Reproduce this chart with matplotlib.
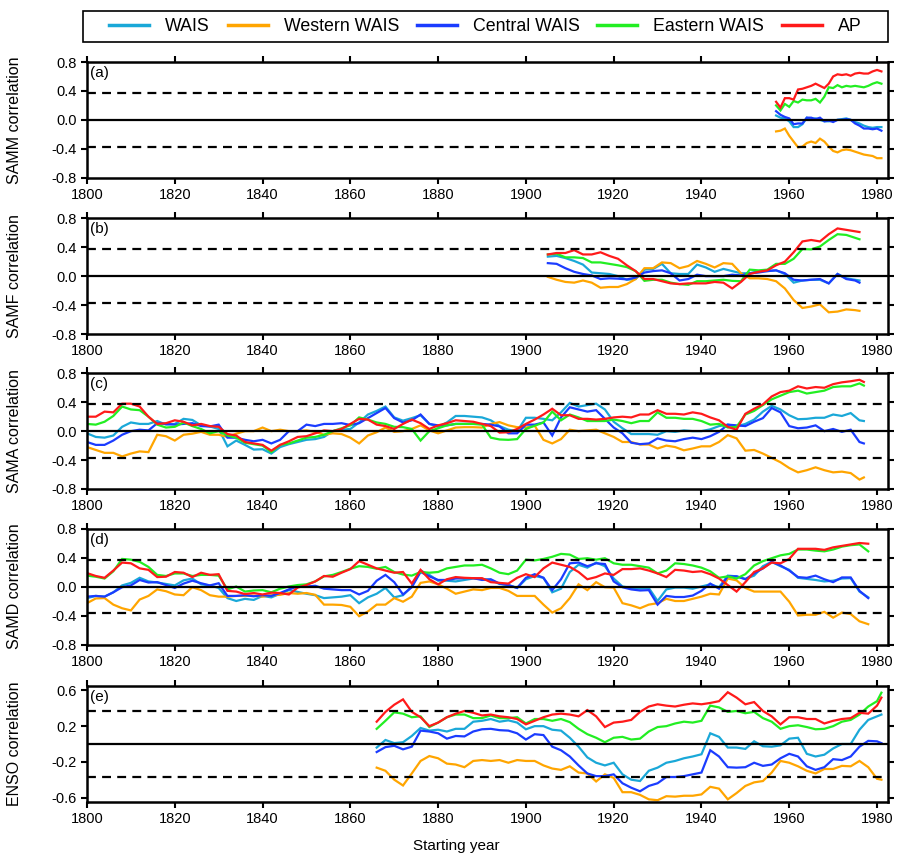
import numpy as np
import matplotlib
matplotlib.use("Agg")
import matplotlib.pyplot as plt
from matplotlib.patches import Rectangle

plt.rcParams['font.family'] = ['Liberation Sans', 'DejaVu Sans']
plt.rcParams['axes.unicode_minus'] = False

regions = ["WAIS", "Western WAIS", "Central WAIS", "Eastern WAIS", "AP"]
colors = ["#1AA8D8", "#FFA500", "#1B3CFF", "#22EE22", "#FF1A1A"]
threshold = 0.372

# ---------------- (a) SAMM ----------------
years_samm = list(range(1957, 1982))
samm_wais = [0.06, 0.03, 0.02, -0.02, -0.10, -0.10, -0.06, 0.03, 0.01, 0.02, 0.0, -0.02, -0.02,
             -0.01, 0.0, 0.01, 0.02, 0.0, -0.03, -0.05, -0.08, -0.10, -0.11, -0.10, -0.10]
samm_west = [-0.16, -0.15, -0.12, -0.22, -0.30, -0.38, -0.37, -0.32, -0.30, -0.32, -0.26, -0.30, -0.37,
             -0.43, -0.45, -0.42, -0.41, -0.42, -0.44, -0.46, -0.48, -0.49, -0.50, -0.53, -0.53]
samm_central = [0.12, 0.07, 0.04, 0.02, -0.06, -0.05, -0.05, 0.03, 0.03, 0.01, 0.03, -0.02, -0.01,
                -0.03, 0.0, 0.0, 0.01, 0.0, -0.05, -0.08, -0.12, -0.12, -0.13, -0.12, -0.15]
samm_east = [0.20, 0.13, 0.22, 0.18, 0.26, 0.24, 0.28, 0.27, 0.27, 0.29, 0.24, 0.32, 0.45,
             0.44, 0.48, 0.45, 0.47, 0.46, 0.47, 0.46, 0.45, 0.47, 0.50, 0.52, 0.50]
samm_ap = [0.25, 0.17, 0.30, 0.30, 0.28, 0.42, 0.43, 0.45, 0.47, 0.50, 0.47, 0.44, 0.50,
           0.60, 0.63, 0.62, 0.63, 0.61, 0.64, 0.65, 0.64, 0.64, 0.67, 0.69, 0.67]

# ---------------- (b) SAMF ----------------
years_samf = list(range(1905, 1976, 2)) + [1976]
samf_wais = [0.27, 0.28, 0.25, 0.21, 0.16, 0.05, 0.04, 0.03, 0.0, -0.05,
             -0.04, 0.09, 0.10, 0.17, 0.04, 0.03, 0.03, 0.16, 0.12, 0.06,
             0.10, 0.07, 0.04, 0.04, 0.07, 0.07, 0.08, 0.03, -0.09, -0.06,
             -0.05, -0.05, -0.10, 0.03, -0.03, -0.05, -0.06]
samf_west = [-0.01, -0.05, -0.08, -0.09, -0.06, -0.09, -0.16, -0.15, -0.15, -0.11,
             -0.04, 0.11, 0.11, 0.19, 0.18, 0.11, 0.14, 0.21, 0.17, 0.12,
             0.18, 0.17, 0.04, -0.03, -0.03, -0.04, -0.07, -0.17, -0.33, -0.44,
             -0.42, -0.39, -0.50, -0.49, -0.46, -0.47, -0.48]
samf_central = [0.18, 0.17, 0.11, 0.06, 0.03, 0.01, -0.04, -0.03, -0.035, -0.045,
                -0.02, 0.05, 0.07, 0.08, 0.04, -0.06, -0.04, 0.02, 0.0, 0.0,
                0.0, 0.02, 0.01, 0.04, 0.05, 0.07, 0.08, 0.04, -0.05, -0.06,
                -0.05, -0.04, -0.10, 0.03, -0.04, -0.06, -0.09]
samf_east = [0.30, 0.31, 0.26, 0.26, 0.25, 0.19, 0.19, 0.17, 0.15, 0.125,
             0.07, -0.065, -0.05, -0.05, -0.09, -0.11, -0.12, -0.07, -0.07, -0.06,
             -0.05, -0.065, -0.07, 0.09, 0.08, 0.09, 0.17, 0.17, 0.24, 0.375,
             0.37, 0.41, 0.50, 0.58, 0.57, 0.53, 0.51]
samf_ap = [0.30, 0.32, 0.32, 0.36, 0.30, 0.30, 0.33, 0.28, 0.24, 0.15,
           0.07, -0.04, -0.04, -0.07, -0.10, -0.11, -0.10, -0.10, -0.10, -0.08,
           -0.09, -0.17, -0.08, 0.03, 0.06, 0.08, 0.15, 0.20, 0.33, 0.48,
           0.50, 0.48, 0.58, 0.66, 0.64, 0.62, 0.61]

# ---------------- (c) SAMA ----------------
years_sama = list(range(1800, 1977, 2)) + [1977]
sama_wais = [-0.03, -0.08, -0.09, -0.06, 0.06, 0.12, 0.10, 0.10, 0.14, 0.09,
             0.10, 0.17, 0.155, 0.08, 0.065, 0.03, -0.21, -0.13, -0.19, -0.255,
             -0.25, -0.31, -0.22, -0.18, -0.15, -0.12, -0.11, -0.08, 0.0, 0.02,
             0.03, 0.12, 0.23, 0.28, 0.34, 0.19, 0.145, 0.18, 0.22, 0.10,
             0.06, 0.12, 0.21, 0.21, 0.20, 0.19,
             0.15, 0.07, 0.02, 0.0, 0.185, 0.185, 0.17, 0.15, 0.26, 0.39,
             0.34, 0.36, 0.38, 0.30, 0.13, 0.04, -0.04, -0.04, -0.04, -0.05,
             0.0, -0.01, 0.01, 0.0, 0.0, 0.025, 0.07, 0.09, 0.065, 0.10,
             0.16, 0.27, 0.35, 0.30, 0.22, 0.165, 0.17, 0.185, 0.185, 0.23,
             0.21, 0.25, 0.15, 0.14]
sama_west = [-0.22, -0.26, -0.30, -0.30, -0.35, -0.31, -0.28, -0.29, -0.05, -0.07,
             -0.13, -0.05, -0.035, -0.01, -0.05, -0.05, -0.08, -0.035, 0.0, 0.0,
             0.05, 0.0, 0.02, 0.0, 0.0, 0.01, -0.01, -0.05, -0.03, -0.04,
             -0.09, -0.17, -0.06, -0.015, 0.05, -0.01, 0.0, 0.03, 0.08, 0.01,
             -0.03, 0.01, 0.05, 0.055, 0.055, 0.05,
             0.10, 0.125, 0.08, 0.055, 0.05, 0.075, -0.12, -0.17, -0.11, 0.02,
             0.0, 0.01, 0.02, -0.03, -0.08, -0.15, -0.15, -0.185, -0.185, -0.24,
             -0.20, -0.22, -0.265, -0.24, -0.21, -0.21, -0.15, -0.055, -0.10, -0.27,
             -0.26, -0.31, -0.37, -0.43, -0.51, -0.57, -0.54, -0.50, -0.54, -0.57,
             -0.56, -0.58, -0.67, -0.64]
sama_central = [-0.15, -0.19, -0.19, -0.13, -0.05, 0.0, 0.02, 0.01, 0.11, 0.10,
                0.09, 0.10, 0.11, 0.07, 0.065, 0.09, -0.09, -0.09, -0.12, -0.14,
                -0.12, -0.17, -0.12, 0.0, 0.0, 0.09, 0.07, 0.10, 0.10, 0.11,
                0.085, 0.11, 0.18, 0.25, 0.32, 0.18, 0.12, 0.15, 0.23, 0.10,
                0.08, 0.08, 0.10, 0.10, 0.10, 0.10,
                0.09, 0.065, -0.03, -0.03, 0.09, 0.09, 0.12, -0.06, 0.19, 0.33,
                0.30, 0.27, 0.29, 0.17, 0.05, -0.03, -0.16, -0.18, -0.17, -0.10,
                -0.13, -0.14, -0.11, -0.09, -0.11, -0.07, -0.01, 0.09, 0.08, 0.07,
                0.13, 0.18, 0.32, 0.26, 0.07, 0.04, 0.05, 0.08, 0.0, 0.03,
                -0.01, 0.02, -0.15, -0.17]
sama_east = [0.10, 0.09, 0.13, 0.21, 0.34, 0.30, 0.29, 0.20, 0.09, 0.05,
             0.06, 0.12, 0.07, 0.03, -0.03, 0.0, -0.06, -0.09, -0.16, -0.18,
             -0.20, -0.29, -0.19, -0.17, -0.13, -0.09, -0.08, -0.05, 0.0, 0.04,
             0.08, 0.19, 0.16, 0.12, 0.10, 0.06, 0.055, 0.03, -0.13, 0.0,
             0.04, 0.08, 0.10, 0.10, 0.10, 0.09,
             -0.09, -0.115, -0.12, -0.11, 0.03, 0.075, 0.12, 0.27, 0.15, 0.23,
             0.19, 0.14, 0.14, 0.14, 0.16, 0.14, 0.11, 0.14, 0.14, 0.26,
             0.185, 0.185, 0.17, 0.17, 0.14, 0.09, 0.10, 0.05, 0.06, 0.23,
             0.28, 0.36, 0.44, 0.49, 0.54, 0.56, 0.52, 0.54, 0.56, 0.61,
             0.62, 0.62, 0.66, 0.63]
sama_ap = [0.20, 0.20, 0.27, 0.26, 0.38, 0.38, 0.34, 0.20, 0.10, 0.11,
           0.15, 0.13, 0.08, 0.10, 0.07, 0.06, -0.04, -0.06, -0.15, -0.17,
           -0.19, -0.27, -0.19, -0.14, -0.08, -0.07, -0.03, 0.01, 0.0, 0.03,
           0.10, 0.17, 0.16, 0.09, 0.07, 0.03, 0.10, 0.16, 0.11, 0.03,
           0.08, 0.11, 0.15, 0.14, 0.13, 0.10,
           0.07, -0.02, -0.015, 0.03, 0.10, 0.16, 0.23, 0.31, 0.22, 0.22,
           0.17, 0.17, 0.16, 0.17, 0.19, 0.20, 0.19, 0.23, 0.23, 0.29,
           0.24, 0.24, 0.23, 0.26, 0.24, 0.19, 0.15, 0.06, 0.02, 0.24,
           0.31, 0.37, 0.48, 0.54, 0.56, 0.62, 0.59, 0.61, 0.60, 0.65,
           0.675, 0.69, 0.71, 0.68]

# ---------------- (d) SAMD ----------------
years_samd = list(range(1800, 1979, 2))
samd_wais = [-0.16, -0.13, -0.14, -0.08, 0.015, 0.05, 0.12, 0.07, 0.055, 0.035,
             0.015, 0.085, 0.11, 0.03, 0.015, -0.02, -0.16, -0.20, -0.17, -0.185,
             -0.13, -0.15, -0.10, -0.05, -0.075, -0.10, -0.12, -0.16, -0.15, -0.14,
             -0.12, -0.23, -0.15, -0.10, -0.02, -0.15, -0.12, 0.0, 0.22, 0.16,
             0.08, 0.08, 0.07, 0.09, 0.11, 0.105,
             0.09, 0.035, 0.02, -0.02, 0.10, 0.145, 0.12, -0.08, -0.03, 0.20,
             0.30, 0.26, 0.33, 0.28, 0.11, 0.0, -0.02, -0.03, -0.02, -0.20,
             -0.04, -0.015, -0.015, -0.03, 0.0, 0.03, -0.01, 0.15, 0.14, 0.105,
             0.15, 0.28, 0.34, 0.28, 0.23, 0.12, 0.105, 0.09, 0.07, 0.08,
             0.11, 0.115, -0.07, -0.15]
samd_west = [-0.23, -0.165, -0.16, -0.25, -0.30, -0.33, -0.18, -0.13, -0.04, -0.065,
             -0.11, -0.12, -0.01, -0.05, -0.12, -0.14, -0.14, -0.13, -0.13, -0.125,
             -0.14, -0.12, -0.115, -0.09, -0.10, -0.09, -0.115, -0.25, -0.25, -0.255,
             -0.28, -0.41, -0.345, -0.25, -0.25, -0.16, -0.21, -0.14, 0.05, 0.07,
             0.03, -0.03, -0.10, -0.07, -0.04, -0.05,
             -0.02, -0.02, -0.06, -0.13, -0.13, -0.13, -0.25, -0.36, -0.30, -0.16,
             0.03, -0.05, 0.06, -0.01, -0.015, -0.23, -0.26, -0.30, -0.25, -0.23,
             -0.17, -0.20, -0.20, -0.17, -0.14, -0.10, -0.11, 0.11, 0.085, -0.02,
             -0.07, -0.07, -0.07, -0.07, -0.21, -0.40, -0.39, -0.39, -0.35, -0.43,
             -0.36, -0.38, -0.48, -0.52]
samd_central = [-0.14, -0.13, -0.14, -0.08, -0.01, 0.015, 0.09, 0.055, 0.06, 0.02,
                -0.02, 0.04, 0.08, 0.045, 0.015, 0.045, -0.13, -0.13, -0.12, -0.135,
                -0.12, -0.13, -0.09, -0.04, 0.0, 0.0, 0.01, -0.03, -0.04, -0.05,
                -0.05, -0.11, -0.06, 0.08, 0.16, 0.06, -0.11, -0.01, 0.20, 0.14,
                0.09, 0.09, 0.11, 0.115, 0.115, 0.09,
                0.10, 0.04, 0.02, -0.02, 0.12, 0.17, 0.12, -0.05, 0.10, 0.32,
                0.33, 0.28, 0.32, 0.31, 0.07, -0.01, -0.04, -0.055, -0.05, -0.25,
                -0.13, -0.145, -0.145, -0.125, -0.06, 0.04, -0.03, 0.14, 0.14, 0.10,
                0.18, 0.25, 0.34, 0.29, 0.22, 0.13, 0.12, 0.15, 0.10, 0.06,
                0.125, 0.125, -0.06, -0.16]
samd_east = [0.15, 0.135, 0.11, 0.21, 0.38, 0.37, 0.34, 0.27, 0.16, 0.145,
             0.18, 0.18, 0.145, 0.16, 0.16, 0.15, -0.04, 0.0, -0.07, -0.055,
             -0.05, -0.08, -0.03, 0.0, 0.02, 0.03, 0.07, 0.14, 0.16, 0.20,
             0.245, 0.28, 0.27, 0.245, 0.27, 0.20, 0.165, 0.15, 0.20, 0.19,
             0.20, 0.25, 0.27, 0.29, 0.29, 0.30,
             0.25, 0.19, 0.17, 0.22, 0.37, 0.36, 0.38, 0.41, 0.45, 0.44,
             0.38, 0.39, 0.37, 0.39, 0.32, 0.30, 0.30, 0.28, 0.26, 0.18,
             0.22, 0.32, 0.31, 0.29, 0.26, 0.21, 0.12, 0.14, 0.11, 0.17,
             0.29, 0.35, 0.39, 0.43, 0.45, 0.51, 0.51, 0.495, 0.485, 0.51,
             0.55, 0.57, 0.58, 0.485]
samd_ap = [0.185, 0.145, 0.12, 0.22, 0.33, 0.32, 0.25, 0.23, 0.13, 0.135,
           0.20, 0.19, 0.13, 0.19, 0.16, 0.17, -0.06, -0.07, -0.105, -0.09,
           -0.11, -0.085, -0.09, -0.11, -0.015, 0.02, 0.07, 0.145, 0.135, 0.19,
           0.24, 0.35, 0.30, 0.25, 0.22, 0.19, 0.20, 0.04, 0.23, 0.10,
           0.03, 0.10, 0.13, 0.12, 0.115, 0.115,
           0.06, 0.05, 0.04, 0.12, 0.17, 0.13, 0.25, 0.33, 0.30, 0.27,
           0.20, 0.10, 0.13, 0.18, 0.16, 0.24, 0.24, 0.25, 0.22, 0.18,
           0.13, 0.23, 0.22, 0.20, 0.21, 0.17, 0.11, 0.02, -0.07, 0.06,
           0.20, 0.25, 0.33, 0.32, 0.38, 0.52, 0.52, 0.52, 0.505, 0.54,
           0.56, 0.58, 0.60, 0.59]

# ---------------- (e) ENSO ----------------
years_enso = list(range(1866, 1981, 2)) + [1981]
enso_wais = [-0.04, 0.045, 0.01, 0.02, 0.09, 0.18, 0.15, 0.16, 0.14, 0.17,
             0.17, 0.25, 0.26, 0.28, 0.25, 0.265, 0.24, 0.165, 0.20, 0.20,
             0.16, 0.15, 0.07, -0.03, -0.15, -0.21, -0.24, -0.21, -0.34, -0.40,
             -0.415, -0.30, -0.265, -0.21, -0.19, -0.16, -0.14, -0.115, 0.12, 0.08,
             -0.04, -0.04, -0.055, 0.03, -0.025, -0.03, -0.015, 0.06, 0.07, -0.11,
             -0.14, -0.12, -0.05, 0.0, 0.0, 0.16, 0.27, 0.31, 0.33]
enso_west = [-0.265, -0.30, -0.40, -0.465, -0.33, -0.19, -0.135, -0.16, -0.22, -0.23,
             -0.26, -0.19, -0.18, -0.19, -0.18, -0.21, -0.18, -0.19, -0.19, -0.24,
             -0.275, -0.29, -0.25, -0.32, -0.33, -0.42, -0.34, -0.38, -0.54, -0.54,
             -0.57, -0.62, -0.63, -0.585, -0.59, -0.58, -0.58, -0.565, -0.48, -0.50,
             -0.62, -0.55, -0.47, -0.43, -0.415, -0.32, -0.19, -0.21, -0.25, -0.30,
             -0.33, -0.28, -0.28, -0.245, -0.25, -0.19, -0.26, -0.39, -0.40]
enso_central = [-0.09, -0.035, -0.02, -0.06, -0.03, 0.15, 0.14, 0.12, 0.06, 0.09,
                0.085, 0.14, 0.165, 0.17, 0.155, 0.15, 0.12, 0.05, 0.11, 0.10,
                -0.03, -0.07, -0.14, -0.24, -0.33, -0.36, -0.36, -0.34, -0.44, -0.49,
                -0.53, -0.47, -0.44, -0.37, -0.37, -0.36, -0.34, -0.32, -0.07, -0.14,
                -0.26, -0.265, -0.26, -0.21, -0.245, -0.23, -0.16, -0.11, -0.14, -0.25,
                -0.29, -0.26, -0.17, -0.18, -0.14, -0.03, 0.035, 0.03, 0.01]
enso_east = [0.17, 0.26, 0.355, 0.34, 0.30, 0.31, 0.19, 0.24, 0.30, 0.33,
             0.33, 0.29, 0.29, 0.32, 0.29, 0.29, 0.30, 0.23, 0.28, 0.28,
             0.26, 0.28, 0.245, 0.17, 0.11, 0.07, 0.02, 0.07, 0.08, 0.05,
             0.06, 0.14, 0.19, 0.20, 0.23, 0.25, 0.24, 0.26, 0.43, 0.41,
             0.36, 0.37, 0.345, 0.36, 0.29, 0.25, 0.17, 0.20, 0.21, 0.19,
             0.165, 0.17, 0.20, 0.25, 0.27, 0.33, 0.42, 0.48, 0.575]
enso_ap = [0.25, 0.36, 0.44, 0.50, 0.36, 0.30, 0.20, 0.24, 0.30, 0.34,
           0.37, 0.35, 0.32, 0.33, 0.31, 0.30, 0.28, 0.22, 0.26, 0.30,
           0.33, 0.34, 0.33, 0.31, 0.38, 0.31, 0.19, 0.24, 0.25, 0.27,
           0.36, 0.42, 0.445, 0.43, 0.42, 0.44, 0.455, 0.445, 0.46, 0.48,
           0.58, 0.52, 0.445, 0.47, 0.37, 0.31, 0.22, 0.30, 0.30, 0.28,
           0.28, 0.23, 0.26, 0.28, 0.29, 0.35, 0.34, 0.43, 0.52]

panels = [
    ("(a)", "SAMM correlation", years_samm,
     [samm_wais, samm_west, samm_central, samm_east, samm_ap]),
    ("(b)", "SAMF correlation", years_samf,
     [samf_wais, samf_west, samf_central, samf_east, samf_ap]),
    ("(c)", "SAMA correlation", years_sama,
     [sama_wais, sama_west, sama_central, sama_east, sama_ap]),
    ("(d)", "SAMD correlation", years_samd,
     [samd_wais, samd_west, samd_central, samd_east, samd_ap]),
    ("(e)", "ENSO correlation", years_enso,
     [enso_wais, enso_west, enso_central, enso_east, enso_ap]),
]

W, H = 904, 858
fig = plt.figure(figsize=(W / 100, H / 100), dpi=100)

# axes frames in pixel rows (top, bottom)
frames = [(62, 177.7), (218.3, 334), (373.3, 489), (528.5, 644.5), (686, 802)]
x_left, x_right = 87, 888

handles = []
for i, ((tag, ylabel, years, series), (top, bot)) in enumerate(zip(panels, frames)):
    ax = fig.add_axes([x_left / W, 1 - bot / H, (x_right - x_left) / W, (bot - top) / H])
    for vals, col, name in zip(series, colors, regions):
        ln, = ax.plot(years, vals, color=col, lw=1.6, solid_joinstyle='miter', label=name, zorder=2)
        if i == 0:
            handles.append(ln)
    ax.axhline(0, color='black', lw=1.6, zorder=3)
    for t in (threshold, -threshold):
        ax.axhline(t, color='black', lw=1.6, ls=(0, (4, 2.8)), zorder=3)

    ax.set_xlim(1800, 1982.5)
    ax.set_xticks(range(1800, 1981, 20))
    if i < 4:
        ax.set_ylim(-0.8, 0.8)
        ax.set_yticks([-0.8, -0.4, 0.0, 0.4, 0.8])
        ax.set_yticklabels(["-0.8", "-0.4", "0.0", "0.4", "0.8"])
    else:
        ax.set_ylim(-0.65, 0.65)
        ax.set_yticks([-0.6, -0.2, 0.2, 0.6])
        ax.set_yticklabels(["-0.6", "-0.2", "0.2", "0.6"])

    for s in ax.spines.values():
        s.set_linewidth(1.8)
    ax.tick_params(axis='both', which='both', direction='out', length=4.5, width=1.5,
                   top=True, right=True, labelsize=10.5, pad=3)
    ax.set_ylabel(ylabel, fontsize=11.5)
    ax.yaxis.set_label_coords(-0.081, 0.5)
    ax.text(0.004, 0.965, tag, transform=ax.transAxes, ha='left', va='top', fontsize=11)

fig.text(456 / W, 1 - 846 / H, "Starting year", ha='center', va='center', fontsize=11)

# legend entries centred in a separately drawn frame
leg = fig.legend(handles, regions, loc='center',
                 bbox_to_anchor=(485.5 / W, 1 - 26.5 / H),
                 ncol=5, fontsize=12.8, frameon=False,
                 handlelength=2.25, handletextpad=0.9, columnspacing=1.0,
                 borderaxespad=0, borderpad=0.2)
for lh in leg.get_lines():
    lh.set_linewidth(2.5)
fig.patches.append(Rectangle((83 / W, 1 - 42.3 / H), 805 / W, 31.6 / H,
                             transform=fig.transFigure, fill=False,
                             edgecolor='black', linewidth=1.2))

fig.savefig("out.png", dpi=100)
